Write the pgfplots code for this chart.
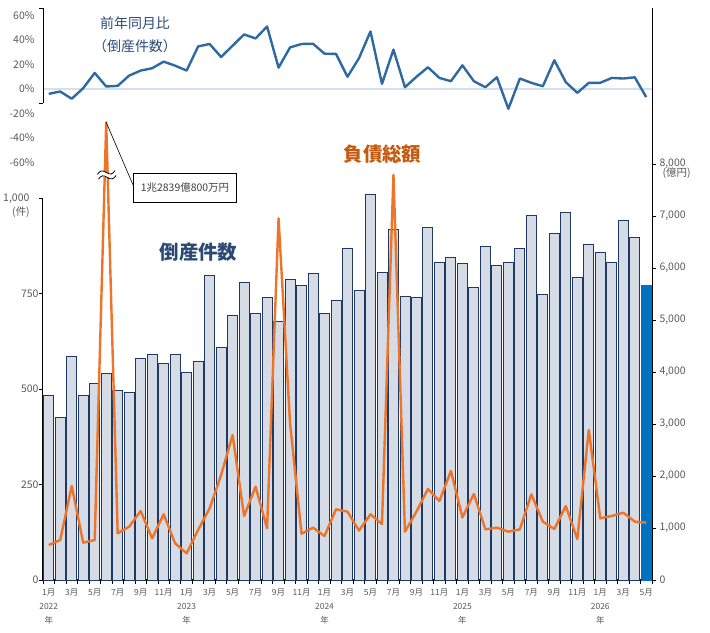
\documentclass[border=0pt]{standalone}
\usepackage{fontspec}
\setmainfont{Noto Sans CJK JP}
\usepackage{pgfplots}
\usepackage{pgfplotstable}
\pgfplotsset{compat=1.18}

\definecolor{barfill}{HTML}{D6DCE5}
\definecolor{barline}{HTML}{203864}
\definecolor{lastbar}{HTML}{0070C0}
\definecolor{debtline}{HTML}{ED7428}
\definecolor{yoyline}{HTML}{2E6AA1}
\definecolor{zeroline}{HTML}{D3E0F0}
\definecolor{ticktext}{HTML}{595959}
\definecolor{navytext}{HTML}{2A4A75}
\definecolor{debttext}{HTML}{C55A11}
\definecolor{notetext}{HTML}{404040}

% monthly series, Jan 2022 (idx 0) to May 2026 (idx 52)
% count: bankruptcies, debt: total liabilities (100 million yen), yoy: change in count (%)
\pgfplotstableread{
idx count debt yoy
0 482 673 -4.1
1 426 769 -2.2
2 585 1808 -8.1
3 484 718 0.5
4 515 769 13.0
5 541 12839 1.9
6 496 897 2.4
7 491 1026 10.8
8 580 1327 14.9
9 591 801 16.8
10 567 1263 22.2
11 591 705 18.9
12 543 513 14.9
13 572 962 34.6
14 797 1378 36.6
15 609 2019 26.0
16 692 2788 35.2
17 778 1231 44.4
18 698 1795 41.1
19 740 994 50.9
20 677 6955 17.3
21 787 3019 33.8
22 770 890 36.6
23 802 1006 36.8
24 698 846 28.7
25 732 1359 28.5
26 868 1314 9.8
27 758 950 25.0
28 1009 1263 46.8
29 805 1077 4.1
30 918 7790 32.0
31 742 930 1.3
32 740 1314 9.8
33 922 1750 17.6
34 832 1519 8.9
35 845 2096 6.2
36 829 1205 19.2
37 766 1654 6.2
38 873 974 1.3
39 823 1006 9.4
40 832 929 -16.3
41 867 974 8.4
42 955 1647 4.9
43 748 1122 2.1
44 907 981 23.3
45 962 1423 5.4
46 793 788 -3.3
47 879 2885 4.9
48 858 1186 4.9
49 832 1231 8.9
50 941 1295 8.4
51 896 1122 9.4
52 770 1103 -6.8
}\monthly

\pgfplotsset{/pgf/number format/assume math mode=true}
\tikzset{basefont/.style={font=\fontsize{10.5}{12}\selectfont, text=ticktext}}

\begin{document}
\begin{tikzpicture}
\path[use as bounding box] (0,0) rectangle (710bp,633bp);

% bankruptcy counts (left axis)
\begin{axis}[
  at={(43bp,53bp)}, anchor=south west, scale only axis,
  width=609bp, height=382bp,
  xmin=-0.5, xmax=52.5, ymin=0, ymax=1000, clip=false,
  axis x line*=bottom, axis y line*=left,
  axis line style={black, line width=1bp},
  tick align=outside,
  xtick={0,2,...,52},
  xticklabels={{1月\\2022\\年},3月,5月,7月,9月,11月,
               {1月\\2023\\年},3月,5月,7月,9月,11月,
               {1月\\2024\\年},3月,5月,7月,9月,11月,
               {1月\\2025\\年},3月,5月,7月,9月,11月,
               {1月\\2026\\年},3月,5月},
  minor xtick={-0.5,0.5,...,52.5},
  major x tick style={draw=none},
  minor tick length=4bp,
  minor x tick style={black, line width=0.8bp},
  ytick={0,250,500,750,1000},
  yticklabels={0,250,500,750,{}},
  scaled y ticks=false,
  major tick length=4bp,
  y tick style={black, line width=0.8bp},
  yticklabel style={basefont, xshift=3bp},
  xticklabel style={font=\fontsize{8.5}{14}\selectfont, align=center, text=ticktext, yshift=-1.5bp},
]
\addplot[ybar, bar width=10bp, bar shift=0pt, fill=barfill, draw=barline, line width=0.9bp,
  restrict x to domain=0:51] table[x=idx, y=count] {\monthly};
\addplot[ybar, bar width=10bp, bar shift=0pt, fill=lastbar, draw=lastbar, line width=0.9bp,
  restrict x to domain=52:52] table[x=idx, y=count] {\monthly};
\end{axis}

% total liabilities (right axis), broken above 8,800
\begin{axis}[
  at={(43bp,53bp)}, anchor=south west, scale only axis,
  width=609bp, height=572bp,
  xmin=-0.5, xmax=52.5, ymin=0, ymax=11000,
  hide x axis, xtick=\empty, axis y line*=right,
  axis line style={black, line width=1bp},
  tick align=outside, major tick length=4bp,
  ytick={0,1000,...,8000},
  yticklabels={0,{1,000},{2,000},{3,000},{4,000},{5,000},{6,000},{7,000},{8,000}},
  scaled y ticks=false,
  y tick style={black, line width=0.8bp},
  yticklabel style={basefont},
  y filter/.expression={min(y,8800)},
]
\addplot[debtline, line width=2.4bp, line join=round] table[x=idx, y=debt] {\monthly};
\coordinate (spiketop) at (axis cs:5,8800);
\coordinate (brk) at (axis cs:5.05,7790);
\end{axis}

% year-on-year change (top panel)
\begin{axis}[
  at={(43bp,470.7bp)}, anchor=south west, scale only axis,
  width=609bp, height=154.3bp,
  xmin=-0.5, xmax=52.5, ymin=-60, ymax=66, clip=false,
  hide x axis, xtick=\empty, axis y line*=left,
  axis line style={draw=none},
  ytick={-60,-40,...,60},
  yticklabels={-60\%,-40\%,-20\%,0\%,20\%,40\%,60\%},
  scaled y ticks=false,
  major tick length=0pt, y tick style={draw=none},
  yticklabel style={basefont, xshift=-5bp},
]
\draw[zeroline, line width=1.6bp] (axis cs:-0.5,0) -- (axis cs:52.5,0);
\addplot[yoyline, line width=2.4bp, line join=round] table[x=idx, y=yoy] {\monthly};
\end{axis}

% left axis line of the top panel
\draw[black, line width=1bp] (43bp,530bp) -- (43bp,625bp);
\draw[black, line width=0.8bp] (39bp,625bp) -- (43bp,625bp) (39bp,530bp) -- (43bp,530bp);

% axis break mark on the liabilities spike
\begin{scope}[shift={(brk)}, rotate=12]
  \fill[white] (-9bp,2.5bp) sin (-4.5bp,5bp) cos (0bp,2.5bp) sin (4.5bp,0bp) cos (9bp,2.5bp)
      -- (9bp,-2.5bp) cos (4.5bp,-5bp) sin (0bp,-2.5bp) cos (-4.5bp,0bp) sin (-9bp,-2.5bp) -- cycle;
  \draw[black, line width=0.8bp] (-9bp,2.5bp) sin (-4.5bp,5bp) cos (0bp,2.5bp) sin (4.5bp,0bp) cos (9bp,2.5bp);
  \draw[black, line width=0.8bp] (-9bp,-2.5bp) sin (-4.5bp,0bp) cos (0bp,-2.5bp) sin (4.5bp,-5bp) cos (9bp,-2.5bp);
\end{scope}

% callout for the off-scale month
\node[draw=black, line width=0.9bp, fill=white, minimum width=103bp, minimum height=29.4bp,
  inner sep=0pt, font=\fontsize{10.5}{12}\selectfont, text=notetext] (note) at (185bp,445bp) {1兆2839億800万円};
\draw[black, line width=0.6bp] (spiketop) -- ([yshift=3bp]note.west);

% unit labels
\node[basefont, inner sep=0pt] at (16.3bp,434.7bp) {1,000};
\node[basefont, inner sep=0pt] at (21bp,421bp) {(件)};
\node[basefont, inner sep=0pt] at (676.7bp,460bp) {(億円)};

% series titles
\node[anchor=west, inner sep=0pt, text=navytext, font=\fontsize{14}{16}\selectfont] at (100bp,609.7bp) {前年同月比};
\node[anchor=west, inner sep=0pt, text=navytext, font=\fontsize{14}{16}\selectfont] at (93bp,586.3bp) {（倒産件数）};
\node[inner sep=0pt, text=debttext, font=\bfseries\fontsize{19.5}{22}\selectfont] at (382.5bp,479bp) {負債総額};
\node[inner sep=0pt, text=navytext, font=\bfseries\fontsize{19.5}{22}\selectfont] at (198.5bp,381.3bp) {倒産件数};
\end{tikzpicture}
\end{document}
